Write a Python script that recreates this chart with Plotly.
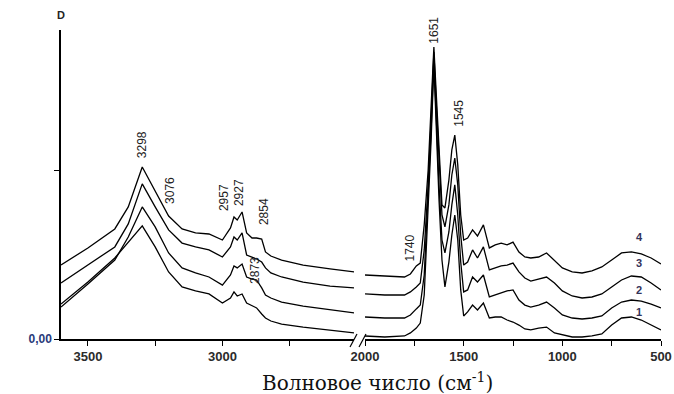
import plotly.graph_objects as go

# ---- data ----
wn_left = [3600, 3500, 3400, 3350, 3298, 3250, 3200, 3150, 3100, 3050, 3000, 2970, 2957,
           2945, 2927, 2910, 2890, 2873, 2854, 2840, 2820, 2780, 2700, 2600, 2510]
wn_right = [2000, 1900, 1800, 1770, 1740, 1720, 1700, 1680, 1665, 1651, 1640, 1625, 1610,
            1595, 1575, 1560, 1545, 1530, 1515, 1500, 1480, 1455, 1430, 1400, 1370, 1340,
            1310, 1280, 1250, 1220, 1190, 1160, 1120, 1080, 1040, 1000, 950, 900, 850, 800,
            750, 700, 650, 600, 550, 500]

s4_left = [0.440, 0.542, 0.655, 0.786, 1.024, 0.881, 0.732, 0.655, 0.631, 0.625, 0.589, 0.661, 0.726,
           0.708, 0.756, 0.631, 0.601, 0.601, 0.595, 0.518, 0.494, 0.470, 0.440, 0.417, 0.399]
s3_left = [0.333, 0.440, 0.548, 0.685, 0.923, 0.786, 0.649, 0.571, 0.548, 0.530, 0.488, 0.548, 0.607,
           0.589, 0.631, 0.500, 0.488, 0.476, 0.458, 0.423, 0.393, 0.369, 0.339, 0.315, 0.304]
s2_left = [0.190, 0.327, 0.470, 0.607, 0.786, 0.667, 0.512, 0.423, 0.393, 0.369, 0.321, 0.381, 0.435,
           0.423, 0.446, 0.369, 0.357, 0.351, 0.304, 0.262, 0.244, 0.220, 0.196, 0.173, 0.155]
s1_left = [0.208, 0.339, 0.482, 0.577, 0.673, 0.548, 0.399, 0.310, 0.286, 0.268, 0.214, 0.244, 0.280,
           0.256, 0.268, 0.214, 0.196, 0.185, 0.149, 0.125, 0.107, 0.089, 0.071, 0.054, 0.036]

s4_right = [0.381, 0.375, 0.369, 0.387, 0.435, 0.452, 0.679, 1.006, 1.363, 1.738, 1.482, 1.125, 0.798,
            0.780, 0.946, 1.125, 1.214, 1.036, 0.738, 0.589, 0.601, 0.649, 0.613, 0.679, 0.542, 0.560,
            0.571, 0.560, 0.577, 0.518, 0.488, 0.482, 0.488, 0.512, 0.470, 0.423, 0.399, 0.393, 0.405,
            0.429, 0.470, 0.512, 0.518, 0.506, 0.482, 0.446]
s3_right = [0.268, 0.262, 0.262, 0.280, 0.310, 0.333, 0.530, 0.917, 1.304, 1.708, 1.423, 1.036, 0.738,
            0.667, 0.798, 0.976, 1.077, 0.917, 0.619, 0.440, 0.458, 0.530, 0.482, 0.548, 0.411, 0.423,
            0.435, 0.440, 0.452, 0.399, 0.363, 0.345, 0.357, 0.369, 0.333, 0.286, 0.256, 0.244, 0.250,
            0.268, 0.310, 0.351, 0.375, 0.369, 0.333, 0.292]
s2_right = [0.131, 0.125, 0.125, 0.143, 0.179, 0.202, 0.381, 0.827, 1.244, 1.673, 1.333, 0.917, 0.589,
            0.512, 0.637, 0.798, 0.917, 0.738, 0.458, 0.280, 0.292, 0.369, 0.339, 0.381, 0.250, 0.262,
            0.274, 0.286, 0.292, 0.232, 0.202, 0.190, 0.202, 0.220, 0.185, 0.143, 0.125, 0.119, 0.125,
            0.137, 0.185, 0.220, 0.232, 0.226, 0.208, 0.185]
s1_right = [0.018, 0.012, 0.018, 0.036, 0.065, 0.095, 0.262, 0.738, 1.185, 1.637, 1.274, 0.827, 0.470,
            0.310, 0.458, 0.619, 0.738, 0.589, 0.292, 0.137, 0.161, 0.202, 0.173, 0.214, 0.125, 0.131,
            0.131, 0.113, 0.101, 0.083, 0.060, 0.054, 0.065, 0.071, 0.036, 0.024, 0.012, 0.012, 0.018,
            0.030, 0.083, 0.125, 0.131, 0.113, 0.083, 0.054]

left_ticks = [3500, 3250, 3000, 2750]
left_ticktext = ["3500", "", "3000", ""]
right_ticks = [2000, 1750, 1500, 1250, 1000, 750, 500]
right_ticktext = ["2000", "", "1500", "", "1000", "", "500"]

# peak labels: text, axis, x, y
peak_labels = [
    ("3298", "x", 3298, 1.155),
    ("3076", "x", 3195, 0.887),
    ("2957", "x", 2994, 0.839),
    ("2927", "x", 2938, 0.869),
    ("2854", "x", 2845, 0.756),
    ("2873", "x", 2879, 0.411),
    ("1740", "x2", 1774, 0.542),
    ("1651", "x2", 1652, 1.839),
    ("1545", "x2", 1525, 1.345),
]
curve_names = ["4", "3", "2", "1"]
curve_label_x = [607, 612, 612, 612]
curve_label_y = [0.607, 0.452, 0.292, 0.161]

fig = go.Figure()
line = dict(color="black", width=1.3)
for yl in [s4_left, s3_left, s2_left, s1_left]:
    fig.add_trace(go.Scatter(x=wn_left, y=yl, mode="lines", line=line, xaxis="x", yaxis="y"))
for yr in [s4_right, s3_right, s2_right, s1_right]:
    fig.add_trace(go.Scatter(x=wn_right, y=yr, mode="lines", line=line, xaxis="x2", yaxis="y"))

tickfont = dict(family="Liberation Sans, Arial, sans-serif", size=13, color="#2b2b2b")
axis_common = dict(showline=True, linecolor="black", linewidth=1.5, ticks="outside",
                   ticklen=5, tickwidth=1.2, tickcolor="black", showgrid=False,
                   zeroline=False, tickfont=tickfont, automargin=False)

fig.update_layout(
    width=674, height=394,
    margin=dict(l=61, r=13, t=30, b=55),
    paper_bgcolor="white", plot_bgcolor="white",
    showlegend=False,
    xaxis=dict(domain=[0, 0.4883], range=[3600, 2511], tickvals=left_ticks,
               ticktext=["<b>%s</b>" % t if t else "" for t in left_ticktext],
               anchor="y", **axis_common),
    xaxis2=dict(domain=[0.5067, 1], range=[2000, 500], tickvals=right_ticks,
                ticktext=["<b>%s</b>" % t if t else "" for t in right_ticktext],
                anchor="y", **axis_common),
    yaxis=dict(domain=[0, 1], range=[0, 1.839], tickvals=[0, 1.0], ticktext=["<b>0,00</b>", ""],
               anchor="x", **{**axis_common, "tickfont": dict(family="Liberation Sans, Arial, sans-serif",
                                                             size=12, color="#2a3a7a")}),
)

annotations = []
for txt, xa, xv, yv in peak_labels:
    annotations.append(dict(text=txt, x=xv, y=yv, xref=xa, yref="y", textangle=-90,
                            showarrow=False, xanchor="center", yanchor="middle",
                            font=dict(family="Liberation Sans, Arial, sans-serif", size=12,
                                      color="#222222")))
for name, xv, yv in zip(curve_names, curve_label_x, curve_label_y):
    annotations.append(dict(text="<b>%s</b>" % name, x=xv, y=yv, xref="x2", yref="y", showarrow=False,
                            xanchor="center", yanchor="middle",
                            font=dict(family="Liberation Sans, Arial, sans-serif", size=11,
                                      color="#33335a")))
annotations.append(dict(text="<b>D</b>", x=0, y=1.0485, xref="paper", yref="paper",
                        showarrow=False, xanchor="center", yanchor="middle",
                        font=dict(family="Liberation Sans, Arial, sans-serif", size=11,
                                  color="#222222")))
annotations.append(dict(text="Волновое число (см<sup>-1</sup>)", x=0.527, y=-0.139,
                        xref="paper", yref="paper", showarrow=False,
                        xanchor="center", yanchor="middle",
                        font=dict(family="DejaVu Serif, Liberation Serif, serif", size=20,
                                  color="#111111")))
fig.update_layout(annotations=annotations)

# axis break marks
for x0, x1 in [(0.4817, 0.4933), (0.4967, 0.5083)]:
    fig.add_shape(type="line", xref="paper", yref="paper", x0=x0, y0=-0.026, x1=x1, y1=0.016,
                  line=dict(color="black", width=1.2))

fig.write_html("out.html", config={"displayModeBar": False},
               post_script="document.body.style.margin='0';")
